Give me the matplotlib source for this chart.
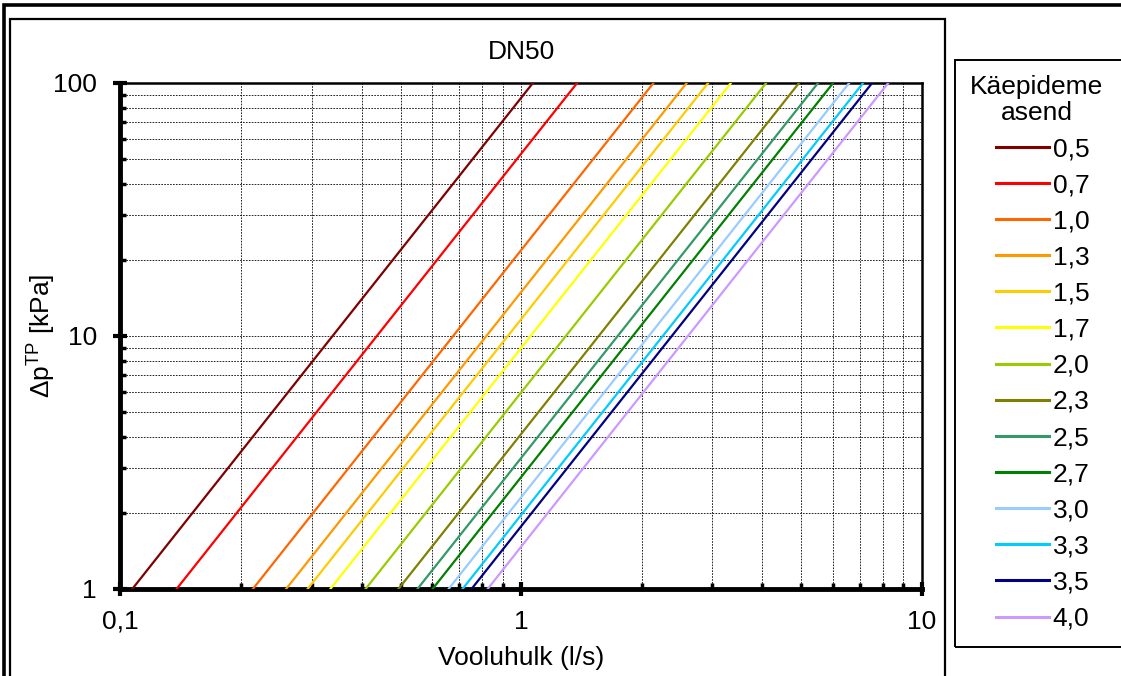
import matplotlib
matplotlib.use("Agg")
import matplotlib.pyplot as plt
from matplotlib.ticker import FixedLocator, NullFormatter, LogLocator
from matplotlib.patches import Rectangle
from matplotlib.lines import Line2D

plt.rcParams['font.family'] = ['Liberation Sans', 'DejaVu Sans']
plt.rcParams['mathtext.fontset'] = 'custom'
plt.rcParams['mathtext.rm'] = 'Liberation Sans'

# handle positions (legend labels)
positions = ['0,5', '0,7', '1,0', '1,3', '1,5', '1,7', '2,0',
             '2,3', '2,5', '2,7', '3,0', '3,3', '3,5', '4,0']
# flow (l/s) read where each curve crosses 1 kPa and 100 kPa
q_at_1kpa = [0.107, 0.138, 0.214, 0.259, 0.293, 0.334, 0.409,
             0.494, 0.551, 0.601, 0.659, 0.714, 0.752, 0.825]
q_at_100kpa = [1.07, 1.38, 2.14, 2.59, 2.93, 3.34, 4.09,
               4.94, 5.51, 6.01, 6.59, 7.14, 7.52, 8.25]
dp_range = [1, 100]
colors = ['#800000', '#ff0000', '#ff6600', '#ff9900', '#ffcc00', '#ffff00', '#99cc00',
          '#808000', '#339966', '#008000', '#99ccff', '#00ccff', '#000080', '#cc99ff']

W, H = 1121, 676
FS = 19
fig = plt.figure(figsize=(W / 100, H / 100), dpi=100)

# frames drawn in pixel coords
def px_rect(x0, y0, x1, y1, lw):
    fig.patches.append(Rectangle((x0 / W, 1 - y1 / H), (x1 - x0) / W, (y1 - y0) / H,
                                 transform=fig.transFigure, fill=False,
                                 edgecolor='black', linewidth=lw, zorder=0))

px_rect(4, 5, 1140, 700, 2.6)      # outer frame
px_rect(10, 19, 945, 700, 1.6)     # chart area
px_rect(955, 60, 1140, 647, 1.4)   # legend box

ax = fig.add_axes([120.5 / W, 1 - 589 / H, (921.7 - 120.5) / W, (589 - 83) / H])

for q1, q100, c, lab in zip(q_at_1kpa, q_at_100kpa, colors, positions):
    ax.plot([q1, q100], dp_range, color=c, linewidth=1.6, label=lab, zorder=3)

ax.set_xscale('log')
ax.set_yscale('log')
ax.set_xlim(0.1, 10)
ax.set_ylim(1, 100)

ax.xaxis.set_major_locator(FixedLocator([0.1, 1, 10]))
ax.yaxis.set_major_locator(FixedLocator([1, 10, 100]))
ax.xaxis.set_minor_locator(LogLocator(base=10, subs=range(2, 10)))
ax.yaxis.set_minor_locator(LogLocator(base=10, subs=range(2, 10)))
ax.xaxis.set_minor_formatter(NullFormatter())
ax.yaxis.set_minor_formatter(NullFormatter())
ax.set_xticklabels(['0,1', '1', '10'])
ax.set_yticklabels(['1', '10', '100'])

ax.grid(which='both', color='black', linestyle=(0, (2, 1.5)), linewidth=0.6, zorder=1)
ax.tick_params(which='major', direction='inout', length=10, width=3, labelsize=FS)
ax.tick_params(axis='x', which='major', pad=10)
ax.tick_params(axis='y', which='major', pad=12)
ax.tick_params(which='minor', direction='in', length=4, width=2.5)

for side in ['left', 'bottom']:
    ax.spines[side].set_linewidth(3.5)
for side in ['top', 'right']:
    ax.spines[side].set_linewidth(1.8)

ax.set_title('DN50', fontsize=FS, pad=17)
ax.set_xlabel('Vooluhulk (l/s)', fontsize=FS, labelpad=9)
ax.set_ylabel('Δp$^{\\mathrm{TP}}$ [kPa]', fontsize=FS, labelpad=-3)

fig.text(1037 / W, 1 - 100 / H, 'Käepideme\nasend', ha='center', va='center',
         multialignment='center', fontsize=FS, linespacing=1.1)

handles = [Line2D([], [], color=c, linewidth=2.2) for c in colors]
fig.legend(handles, positions, loc='upper left', bbox_to_anchor=(996 / W, 1 - 137 / H),
           frameon=False, fontsize=FS, handlelength=2.0, handletextpad=0.15,
           labelspacing=0.46, borderpad=0, borderaxespad=0)

fig.savefig('out.png', dpi=100)
